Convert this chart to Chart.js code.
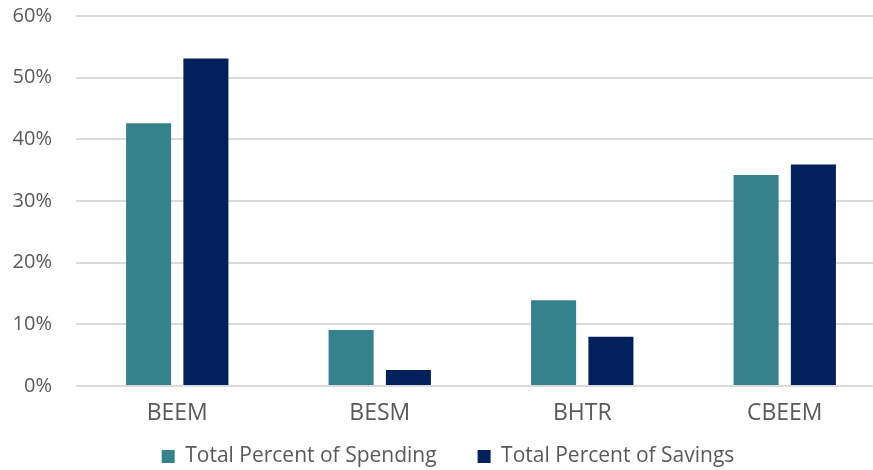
<!DOCTYPE html>
<html>
<head>
<meta charset="utf-8">
<script src="https://cdn.jsdelivr.net/npm/chart.js@4/dist/chart.umd.min.js"></script>
<style>
  html, body { margin: 0; padding: 0; background: #fff; overflow: hidden; }
  #wrap { width: 873px; height: 470px; overflow: hidden; position: relative; }
  canvas { display: block; }
</style>
</head>
<body>
<div id="wrap"><canvas id="chart" width="886" height="502"></canvas></div>
<script>
// Program names on the category axis
const programs = ['BEEM', 'BESM', 'BHTR', 'CBEEM'];

// Share of total spending and total savings per program (percent)
const spendingShare = [42.6, 9.1, 13.9, 34.2];
const savingsShare = [53.1, 2.6, 8.0, 35.9];

// Value axis range and step (percent)
const yMin = 0;
const yMax = 60;
const yStep = 10;

const textColor = '#595959';
const fontFamily = '"Open Sans", sans-serif';

// Pull the legend up closer to the category labels while keeping
// the wide horizontal spacing between its two entries.
const legendLift = {
  id: 'legendLift',
  afterLayout(chart) {
    const lift = 25;
    chart.legend.top -= lift;
    chart.legend.bottom -= lift;
  }
};

new Chart(document.getElementById('chart'), {
  type: 'bar',
  data: {
    labels: programs,
    datasets: [
      {
        label: 'Total Percent of Spending',
        data: spendingShare,
        backgroundColor: '#35828C',
        borderWidth: 0
      },
      {
        label: 'Total Percent of Savings',
        data: savingsShare,
        backgroundColor: '#01205C',
        borderWidth: 0
      }
    ]
  },
  plugins: [legendLift],
  options: {
    responsive: false,
    animation: false,
    devicePixelRatio: 1,
    categoryPercentage: 0.566,
    barPercentage: 0.786,
    layout: { padding: { top: 16, left: 10, right: 0, bottom: 0 } },
    plugins: {
      tooltip: { enabled: false },
      legend: {
        position: 'bottom',
        labels: {
          color: textColor,
          font: { family: fontFamily, size: 21 },
          boxWidth: 13,
          boxHeight: 13,
          padding: 41,
          useBorderRadius: false
        }
      }
    },
    scales: {
      x: {
        grid: { display: false, drawTicks: false },
        border: { display: false },
        ticks: {
          color: textColor,
          font: { family: fontFamily, size: 23 },
          padding: 14
        },
        afterFit(scale) { scale.height = 44; }
      },
      y: {
        min: yMin,
        max: yMax,
        grid: {
          color: '#DADADA',
          lineWidth: 2,
          drawTicks: true,
          tickLength: 24,
          tickColor: 'rgba(0,0,0,0)'
        },
        border: { display: false },
        ticks: {
          stepSize: yStep,
          color: textColor,
          font: { family: fontFamily, size: 20 },
          padding: 0,
          callback: (v) => v + '%'
        },
        afterFit(scale) { scale.width = 66; }
      }
    }
  }
});
</script>
</body>
</html>
